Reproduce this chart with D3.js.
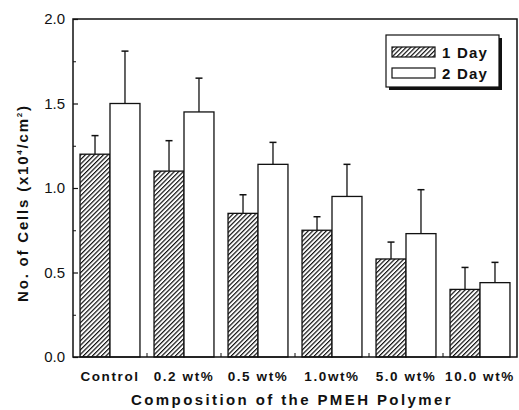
<!DOCTYPE html>
<html>
<head>
<meta charset="utf-8">
<script src="https://cdn.jsdelivr.net/npm/d3@7"></script>
<style>
  body { margin: 0; background: #fff; }
  svg { font-family: "Liberation Sans", Arial, sans-serif; }
</style>
</head>
<body>
<div id="chart"></div>
<script>
const categories = ["Control", "0.2 wt%", "0.5 wt%", "1.0wt%", "5.0 wt%", "10.0 wt%"];
const seriesNames = ["1 Day", "2 Day"];
const day1 = [1.20, 1.10, 0.85, 0.75, 0.58, 0.40];
const day1Err = [0.11, 0.18, 0.11, 0.08, 0.10, 0.13];
const day2 = [1.50, 1.45, 1.14, 0.95, 0.73, 0.44];
const day2Err = [0.31, 0.20, 0.13, 0.19, 0.26, 0.12];
const yTicks = [0, 0.5, 1.0, 1.5, 2.0];

const margin = { top: 19, right: 2, bottom: 53, left: 73 };
const width = 519 - margin.left - margin.right;
const height = 410 - margin.top - margin.bottom;

const svg = d3.select("#chart")
  .append("svg")
  .attr("width", 519)
  .attr("height", 410);

const defs = svg.append("defs");
const pat = defs.append("pattern")
  .attr("id", "hatch")
  .attr("patternUnits", "userSpaceOnUse")
  .attr("width", 3.2)
  .attr("height", 3.2)
  .attr("patternTransform", "rotate(45)");
pat.append("rect").attr("width", 3.2).attr("height", 3.2).attr("fill", "#fff");
pat.append("line")
  .attr("x1", 0).attr("y1", 0).attr("x2", 0).attr("y2", 3.2)
  .attr("stroke", "#111").attr("stroke-width", 2.4);

const g = svg.append("g")
  .attr("transform", `translate(${margin.left},${margin.top})`);

const x = d3.scaleBand()
  .domain(categories)
  .range([0, width])
  .paddingInner(0.19)
  .paddingOuter(0.095);

const x1 = d3.scaleBand()
  .domain(seriesNames)
  .range([0, x.bandwidth()]);

const y = d3.scaleLinear()
  .domain([0, 2])
  .range([height, 0]);

const data = categories.map((c, i) => ({
  cat: c,
  vals: [
    { s: "1 Day", v: day1[i], e: day1Err[i] },
    { s: "2 Day", v: day2[i], e: day2Err[i] }
  ]
}));

const groups = g.selectAll(".grp")
  .data(data)
  .join("g")
  .attr("transform", d => `translate(${x(d.cat)},0)`);

// error bars (drawn first so bar tops cover the base)
groups.selectAll(".err")
  .data(d => d.vals)
  .join("g")
  .each(function (d) {
    const cx = x1(d.s) + x1.bandwidth() / 2;
    const sel = d3.select(this);
    sel.append("line")
      .attr("x1", cx).attr("x2", cx)
      .attr("y1", y(d.v)).attr("y2", y(d.v + d.e))
      .attr("stroke", "#111").attr("stroke-width", 1.3);
    sel.append("line")
      .attr("x1", cx - 3.5).attr("x2", cx + 3.5)
      .attr("y1", y(d.v + d.e)).attr("y2", y(d.v + d.e))
      .attr("stroke", "#111").attr("stroke-width", 1.5);
  });

groups.selectAll("rect")
  .data(d => d.vals)
  .join("rect")
  .attr("x", d => x1(d.s))
  .attr("y", d => y(d.v))
  .attr("width", x1.bandwidth())
  .attr("height", d => y(0) - y(d.v))
  .attr("fill", d => d.s === "1 Day" ? "url(#hatch)" : "#fff")
  .attr("stroke", "#111")
  .attr("stroke-width", 1.3);

// frame
g.append("rect")
  .attr("width", width).attr("height", height)
  .attr("fill", "none").attr("stroke", "#111").attr("stroke-width", 1.5);

// y axis: major + minor inward ticks
const yAxis = g.append("g")
  .call(d3.axisLeft(y).tickValues(yTicks).tickFormat(d3.format(".1f"))
    .tickSizeInner(-5).tickSizeOuter(0).tickPadding(8));
yAxis.select(".domain").remove();
yAxis.selectAll("text")
  .style("font-size", "15px")
  .style("font-family", "'Liberation Sans', Arial, sans-serif")
  .attr("fill", "#111");
yAxis.selectAll("line").attr("stroke", "#111").attr("stroke-width", 1.2);

g.append("g")
  .call(d3.axisLeft(y).tickValues([0.25, 0.75, 1.25, 1.75]).tickFormat("")
    .tickSizeInner(-3).tickSizeOuter(0))
  .call(s => s.select(".domain").remove())
  .selectAll("line").attr("stroke", "#111");

// x axis ticks between groups
const xAxis = g.append("g")
  .attr("transform", `translate(0,${height})`)
  .call(d3.axisBottom(x).tickSize(0).tickPadding(14));
xAxis.select(".domain").remove();
xAxis.selectAll("text")
  .style("font-size", "13.5px")
  .style("font-weight", "bold")
  .style("letter-spacing", "1.6px")
  .style("font-family", "'Liberation Sans', Arial, sans-serif")
  .attr("fill", "#111");

g.append("g")
  .selectAll("line")
  .data(categories.slice(1))
  .join("line")
  .attr("x1", d => x(d) - x.step() * x.paddingInner() / 2)
  .attr("x2", d => x(d) - x.step() * x.paddingInner() / 2)
  .attr("y1", height).attr("y2", height - 4)
  .attr("stroke", "#111");

// axis titles
svg.append("text")
  .attr("x", 292)
  .attr("y", 405)
  .attr("text-anchor", "middle")
  .style("font-size", "15px")
  .style("font-weight", "bold")
  .style("letter-spacing", "2.4px")
  .attr("fill", "#111")
  .text("Composition of the PMEH Polymer");

const yt = svg.append("text")
  .attr("transform", `translate(28,${margin.top + 184}) rotate(-90)`)
  .attr("text-anchor", "middle")
  .style("font-size", "15px")
  .style("font-weight", "bold")
  .style("letter-spacing", "1.8px")
  .attr("fill", "#111");
yt.append("tspan").text("No. of Cells (x10");
yt.append("tspan").attr("dy", -6).style("font-size", "8px").text("4");
yt.append("tspan").attr("dy", 6).text("/cm");
yt.append("tspan").attr("dy", -6).style("font-size", "8px").text("2");
yt.append("tspan").attr("dy", 6).text(")");

// legend
const lg = svg.append("g").attr("transform", "translate(386,35)");
lg.append("rect").attr("x", 3).attr("y", 3).attr("width", 113).attr("height", 52).attr("fill", "#111");
lg.append("rect").attr("width", 113).attr("height", 52).attr("fill", "#fff")
  .attr("stroke", "#111").attr("stroke-width", 1.2);
seriesNames.forEach((s, i) => {
  lg.append("rect")
    .attr("x", 6).attr("y", 12 + i * 21)
    .attr("width", 43).attr("height", 10)
    .attr("fill", i === 0 ? "url(#hatch)" : "#fff")
    .attr("stroke", "#111").attr("stroke-width", 1.2);
  lg.append("text")
    .attr("x", 56).attr("y", 23 + i * 21)
    .style("font-size", "15px")
    .style("font-weight", "bold")
    .style("letter-spacing", "1.2px")
    .attr("fill", "#111")
    .text(s);
});
</script>
</body>
</html>
